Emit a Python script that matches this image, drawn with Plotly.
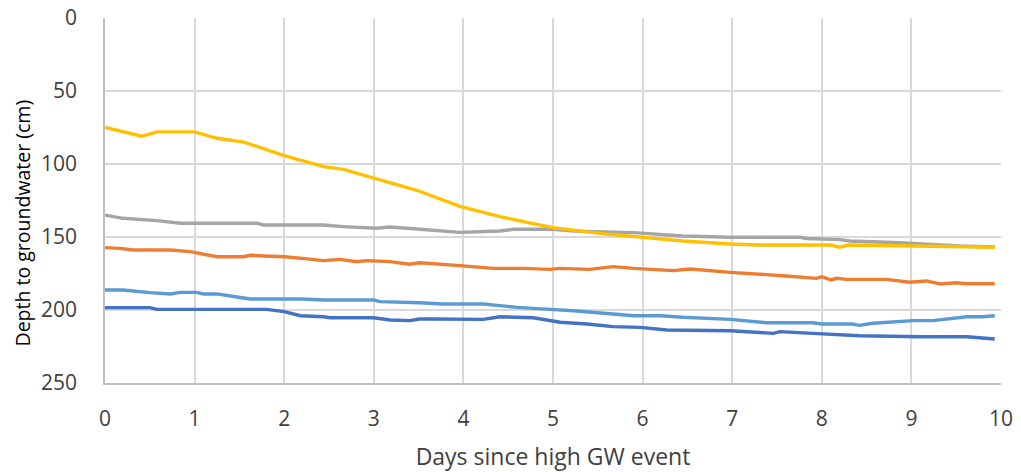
import plotly.graph_objects as go

# Readings (days since event, depth in cm) for each well
yellow_days = [0.0, 0.2, 0.41, 0.58, 1.0, 1.25, 1.55, 2.0, 2.44, 2.66, 3.0, 3.18, 3.48, 3.96, 4.41, 4.71, 5.0, 5.52, 6.0, 6.45, 6.98, 7.3, 8.1, 8.2, 8.3, 9.93]
yellow_vals = [75, 78, 81, 78, 78, 82.4, 85, 94.3, 101.8, 103.7, 109.8, 112.6, 118, 129, 136, 140, 143.6, 147.5, 150.2, 152.7, 154.8, 155.5, 155.5, 157, 155.5, 157]

gray_days = [0.0, 0.2, 0.58, 0.84, 1.7, 1.77, 2.44, 2.66, 3.03, 3.18, 3.48, 3.96, 4.41, 4.56, 5.0, 5.23, 5.9, 6.45, 6.98, 7.76, 7.83, 8.2, 8.31, 8.87, 9.54, 9.93]
gray_vals = [135, 137.2, 138.8, 140.6, 140.6, 141.8, 141.8, 142.9, 144, 143.2, 144.5, 146.8, 145.9, 144.7, 144.7, 146, 147, 149.3, 150.2, 150.2, 151, 151.8, 152.7, 153.9, 156.2, 156.8]

orange_days = [0.0, 0.17, 0.31, 0.73, 0.95, 1.25, 1.55, 1.62, 1.77, 2.0, 2.2, 2.44, 2.62, 2.81, 2.92, 3.18, 3.4, 3.51, 3.96, 4.33, 4.67, 4.97, 5.08, 5.41, 5.67, 5.9, 6.34, 6.53, 6.98, 7.31, 7.6, 7.94, 8.0, 8.1, 8.17, 8.27, 8.72, 8.98, 9.17, 9.32, 9.5, 9.62, 9.93]
orange_vals = [157.3, 157.8, 158.9, 158.9, 160, 163.5, 163.5, 162.5, 163, 163.5, 164.6, 166.2, 165.3, 166.9, 166.2, 166.9, 168.7, 167.6, 169.6, 171.5, 171.5, 172.2, 171.5, 172.2, 170.3, 171.5, 173, 171.9, 174.2, 175.3, 176.7, 178.3, 177.2, 179.4, 178.3, 179, 179, 181, 180.1, 182.2, 181.3, 182, 182]

lightblue_days = [0.0, 0.2, 0.5, 0.73, 0.84, 1.02, 1.1, 1.25, 1.4, 1.62, 2.2, 2.44, 3.0, 3.07, 3.51, 3.77, 4.22, 4.6, 4.97, 5.23, 5.67, 5.9, 6.2, 6.45, 6.98, 7.16, 7.38, 7.9, 8.0, 8.34, 8.42, 8.57, 8.87, 9.02, 9.24, 9.47, 9.62, 9.8, 9.93]
lightblue_vals = [186.3, 186.3, 188.1, 189, 187.9, 187.9, 189, 189, 190.4, 192.5, 192.5, 193.2, 193.2, 194.3, 195, 195.9, 195.9, 198.2, 199.6, 200.5, 202.7, 203.9, 203.9, 205, 206.4, 207.5, 208.7, 208.7, 209.6, 209.6, 210.5, 209.1, 208, 207.3, 207.3, 205.7, 204.6, 204.6, 203.9]

darkblue_days = [0.0, 0.5, 0.58, 1.8, 2.0, 2.18, 2.44, 2.51, 3.0, 3.18, 3.4, 3.51, 3.66, 3.96, 4.22, 4.41, 4.78, 5.08, 5.38, 5.67, 5.97, 6.27, 6.98, 7.46, 7.53, 7.9, 8.13, 8.42, 9.1, 9.62, 9.93]
darkblue_vals = [198.4, 198.4, 199.6, 199.6, 201.1, 203.9, 204.6, 205.3, 205.3, 206.8, 207.3, 206.2, 206.2, 206.4, 206.4, 204.6, 205.3, 208.4, 209.6, 211.4, 211.9, 213.7, 214.2, 216, 214.8, 216, 216.7, 217.6, 218.3, 218.3, 219.9]

x_ticks = [0, 1, 2, 3, 4, 5, 6, 7, 8, 9, 10]
y_ticks = [0, 50, 100, 150, 200, 250]

series = [
    (darkblue_days, darkblue_vals, "#4472C4"),
    (orange_days, orange_vals, "#ED7D31"),
    (gray_days, gray_vals, "#A5A5A5"),
    (yellow_days, yellow_vals, "#FFC000"),
    (lightblue_days, lightblue_vals, "#5B9BD5"),
]

FONT = "Open Sans"
fig = go.Figure()
for d, v, c in series:
    fig.add_trace(go.Scatter(x=d, y=v, mode="lines", line=dict(color=c, width=3.4), showlegend=False))

fig.update_layout(
    width=1021, height=472,
    margin=dict(l=105, r=20, t=18, b=89),
    paper_bgcolor="white", plot_bgcolor="white",
    font=dict(family=FONT, color="#404040", size=21),
)
fig.update_xaxes(
    range=[0, 10], tickvals=x_ticks, ticktext=[str(t) for t in x_ticks],
    showgrid=True, gridcolor="#D9D9D9", gridwidth=1.5,
    showline=True, linecolor="#BFBFBF", linewidth=1.5,
    zeroline=False, ticks="", ticklabelstandoff=16, automargin=False,
    title=dict(text="Days since high GW event", font=dict(size=23, color="#404040"), standoff=19),
)
fig.update_yaxes(
    range=[250, 0], tickvals=y_ticks, ticktext=[str(t) for t in y_ticks],
    showgrid=True, gridcolor="#D9D9D9", gridwidth=1.5,
    showline=True, linecolor="#BFBFBF", linewidth=1.5,
    zeroline=False, ticks="", ticklabelstandoff=22, automargin=False,
)
fig.add_annotation(
    text="Depth to groundwater (cm)", textangle=-90,
    xref="paper", yref="paper", x=0, y=0.5, xanchor="center", yanchor="middle",
    xshift=-83, yshift=-23, showarrow=False,
    font=dict(family=FONT, size=19.5, color="#000000"),
)

fig.write_html("out.html")
